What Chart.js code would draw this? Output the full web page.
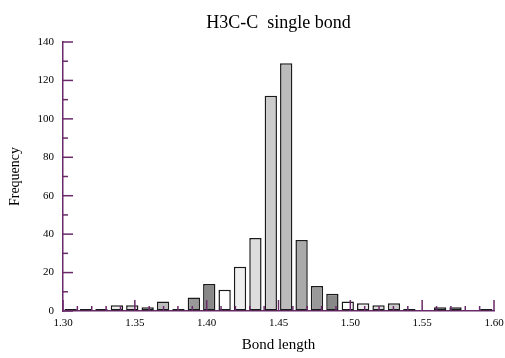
<!DOCTYPE html>
<html>
<head>
<meta charset="utf-8">
<script src="https://cdn.jsdelivr.net/npm/chart.js@4/dist/chart.umd.min.js"></script>
<style>
  html, body { margin: 0; padding: 0; background: #fff; }
  #wrap { width: 505px; height: 358px; }
</style>
</head>
<body>
<div id="wrap"><canvas id="histChart" width="505" height="358"></canvas></div>
<script>
// bin starts (28 bins between 1.30 and 1.60)
const binStarts = [
  "1.300", "1.311", "1.321", "1.332", "1.343", "1.354", "1.364", "1.375",
  "1.386", "1.396", "1.407", "1.418", "1.429", "1.439", "1.450", "1.461",
  "1.471", "1.482", "1.493", "1.504", "1.514", "1.525", "1.536", "1.546",
  "1.557", "1.568", "1.579", "1.589",
];
const frequency = [
  1, 1, 1, 3, 3, 2, 5, 1,
  7, 14, 11, 23, 38, 112, 129, 37,
  13, 9, 5, 4, 3, 4, 1, 0,
  2, 2, 0, 1,
];
const xTickValues = [1.30, 1.35, 1.40, 1.45, 1.50, 1.55, 1.60];
const yTickValues = [0, 20, 40, 60, 80, 100, 120, 140];

const titleText = "H3C-C  single bond";
const xTitle = "Bond length";
const yTitle = "Frequency";

const axisColor = "#6a2a6a";
const serif = "'Liberation Serif', 'DejaVu Serif', serif";
const greys = ["#ffffff", "#eeeeee", "#dddddd", "#cccccc", "#bbbbbb", "#aaaaaa", "#999999", "#888888"];
const barFill = frequency.map((_, i) => greys[(i + 6) % 8]);

// inward tick marks + chart title drawn over the chart area
const decorations = {
  id: "decorations",
  afterDatasetsDraw(chart) {
    const { ctx, chartArea } = chart;
    const xs = chart.scales.x2;
    const ys = chart.scales.y;
    ctx.save();
    ctx.strokeStyle = axisColor;
    ctx.lineWidth = 1.5;
    for (let k = 0; k <= 30; k++) {
      const px = xs.getPixelForValue(1.30 + k * 0.01);
      const len = k % 5 === 0 ? 11 : 5;
      ctx.beginPath();
      ctx.moveTo(px, chartArea.bottom);
      ctx.lineTo(px, chartArea.bottom - len);
      ctx.stroke();
    }
    for (let v = 0; v <= 140; v += 10) {
      const py = ys.getPixelForValue(v);
      const len = v % 20 === 0 ? 10 : 5;
      ctx.beginPath();
      ctx.moveTo(chartArea.left, py);
      ctx.lineTo(chartArea.left + len, py);
      ctx.stroke();
    }
    ctx.fillStyle = "#000";
    ctx.font = `18px ${serif}`;
    ctx.textAlign = "center";
    ctx.textBaseline = "middle";
    ctx.fillText(titleText, (chartArea.left + chartArea.right) / 2, 23);
    ctx.restore();
  },
};

new Chart(document.getElementById("histChart"), {
  type: "bar",
  data: {
    labels: binStarts,
    datasets: [
      {
        label: yTitle,
        data: frequency,
        backgroundColor: barFill,
        borderColor: "#1a1a1a",
        borderWidth: 1.5,
        borderSkipped: false,
        barPercentage: 0.8,
        categoryPercentage: 1.0,
        xAxisID: "x",
      },
    ],
  },
  options: {
    responsive: false,
    animation: false,
    layout: { padding: { top: 42, right: 11, left: 0, bottom: 0 } },
    plugins: {
      legend: { display: false },
      title: { display: false },
      tooltip: { enabled: false },
    },
    scales: {
      x: {
        type: "category",
        display: false,
        offset: true,
      },
      x2: {
        type: "linear",
        position: "bottom",
        offset: false,
        min: 1.30,
        max: 1.60,
        afterBuildTicks: (s) => { s.ticks = xTickValues.map((v) => ({ value: v })); },
        afterFit: (s) => {
          s.height = 47;
          s.paddingLeft = 0;
          s.paddingRight = 0;
        },
        ticks: {
          color: "#000",
          padding: 6,
          maxRotation: 0,
          autoSkip: false,
          font: { family: serif, size: 11 },
          callback: (v) => Number(v).toFixed(2),
        },
        grid: { drawOnChartArea: false, drawTicks: false, offset: false },
        border: { color: axisColor, width: 1.5 },
        title: {
          display: true,
          text: xTitle,
          color: "#000",
          font: { family: serif, size: 15 },
          padding: { top: 0, bottom: 4 },
        },
      },
      y: {
        min: 0,
        max: 140,
        afterBuildTicks: (s) => { s.ticks = yTickValues.map((v) => ({ value: v })); },
        afterFit: (s) => { s.width = 63; },
        ticks: {
          color: "#000",
          padding: 9,
          font: { family: serif, size: 11 },
        },
        grid: { drawOnChartArea: false, drawTicks: false },
        border: { color: axisColor, width: 1.5 },
        title: {
          display: true,
          text: yTitle,
          color: "#000",
          font: { family: serif, size: 14 },
          padding: { top: 7, bottom: 0 },
        },
      },
    },
  },
  plugins: [decorations],
});
</script>
</body>
</html>
